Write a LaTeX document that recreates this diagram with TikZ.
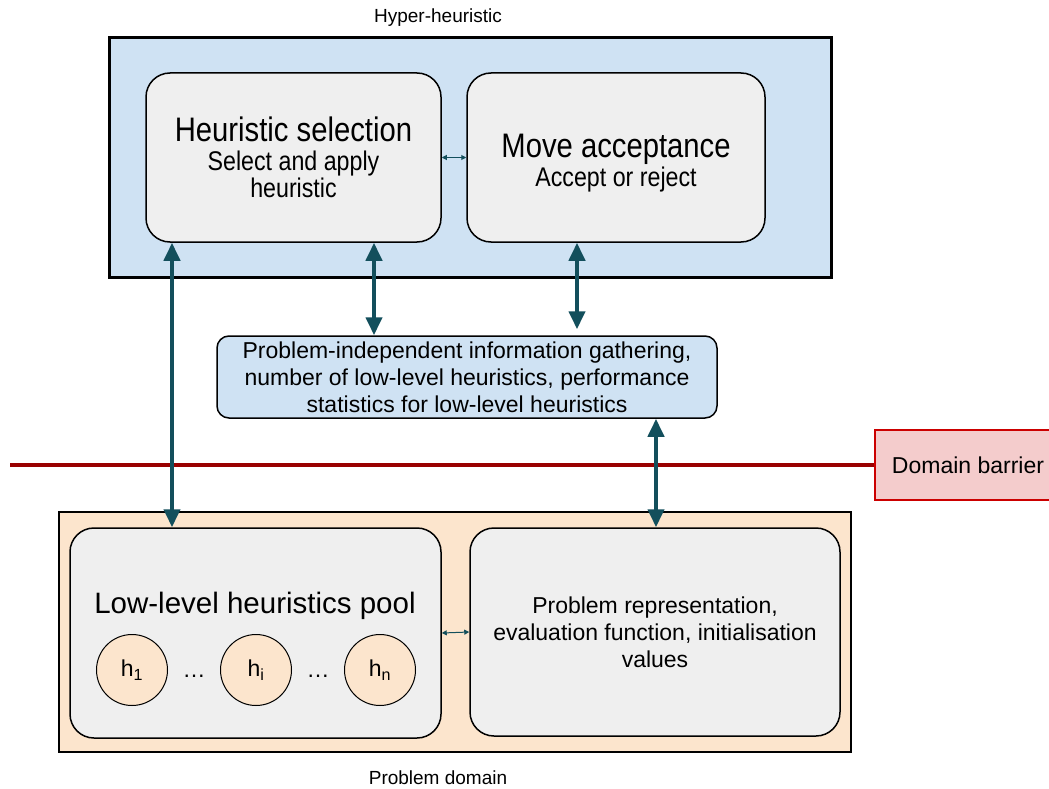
\documentclass[tikz,border=0pt]{standalone}
\usepackage{fontspec}
\setmainfont{Liberation Sans}
\newfontfamily\narrowfont[FakeStretch=0.86]{Liberation Sans}
\usetikzlibrary{arrows.meta,positioning,calc}

\definecolor{hyperblue}{HTML}{CFE2F3}
\definecolor{panelgray}{HTML}{EFEFEF}
\definecolor{domainpeach}{HTML}{FCE5CD}
\definecolor{barrierpink}{HTML}{F4CCCC}
\definecolor{barrierred}{HTML}{CC0000}
\definecolor{barrierline}{HTML}{990000}
\definecolor{linkteal}{HTML}{134F5C}

\newcommand{\bigtxt}{\fontsize{29.5}{34}\selectfont}
\newcommand{\smalltxt}{\fontsize{23}{27}\selectfont}
\newcommand{\narrowtxt}{\narrowfont\fontsize{27}{27}\selectfont}
\newcommand{\narrowbig}{\fontsize{34}{36}\selectfont}

\begin{document}
\begin{tikzpicture}[
  x=1pt, y=-1pt,
  frame/.style={draw,line width=#1,inner sep=0pt},
  panel/.style={draw,rounded corners=24pt,fill=panelgray,line width=1.5pt,
                align=center,inner sep=0pt},
  leaf/.style={circle,draw,fill=domainpeach,line width=1pt,
               minimum size=71pt,inner sep=0pt,font=\smalltxt},
  biglink/.style={{Triangle[length=18pt,width=16pt]}-{Triangle[length=18pt,width=16pt]},
                  linkteal,line width=4pt},
  smalllink/.style={{Triangle[length=5pt,width=5pt]}-{Triangle[length=5pt,width=5pt]},
                    linkteal,line width=1pt}
]
\useasboundingbox (0,0) rectangle (1049,789);

% hyper-heuristic level
\node[frame=3pt,fill=hyperblue,minimum width=722pt,minimum height=239pt]
      (hyper) at (470,157.5) {};
\node[font=\fontsize{19}{22}\selectfont] (hyperlbl) at (438,18) {Hyper-heuristic};
\node[panel,font=\narrowtxt,minimum width=295pt,minimum height=169pt] (select) at (293.5,157.5)
      {{\narrowbig Heuristic selection}\\[2pt]
       Select and apply\\
       heuristic};
\node[panel,font=\narrowtxt,minimum width=298pt,minimum height=169pt] (accept) at (616,157.5)
      {{\narrowbig\rule{0pt}{34pt}Move acceptance}\\[2pt]
       Accept or reject};
\draw[smalllink] (select.east) -- (accept.west);

% information gathering
\node[draw,rounded corners=12pt,fill=hyperblue,line width=1.5pt,align=center,
      minimum width=500pt,minimum height=82pt,inner sep=0pt,font=\smalltxt]
      (info) at (467,377)
      {Problem-independent information gathering,\\
       number of low-level heuristics, performance\\
       statistics for low-level heuristics};

% domain barrier
\node[frame=1.5pt,draw=barrierred,fill=barrierpink,minimum width=186pt,
      minimum height=70pt,font=\smalltxt] (barrier) at (968,465) {Domain barrier};
\coordinate (barrierstart) at (10,465);
\draw[barrierline,line width=4pt] (barrierstart) -- (barrier.west);

% problem domain level
\node[frame=2pt,fill=domainpeach,minimum width=792pt,minimum height=240pt]
      (domain) at (455,632) {};
\node[font=\fontsize{19}{22}\selectfont] (domainlbl) at (438,778) {Problem domain};
\node[panel,minimum width=371pt,minimum height=210pt] (pool) at (255.5,633) {};
\node[font=\bigtxt] (pooltitle) at (255,606) {Low-level heuristics pool};
\node[leaf] (h1) at (132,670) {h\textsubscript{1}};
\node[leaf,right=52pt of h1] (hi) {h\textsubscript{i}};
\node[leaf,right=52pt of hi] (hn) {h\textsubscript{n}};
\node[font=\smalltxt,yshift=-6pt] (dots1) at ($(h1)!0.5!(hi)$) {\dots};
\node[font=\smalltxt,yshift=-6pt] (dots2) at ($(hi)!0.5!(hn)$) {\dots};
\node[panel,minimum width=370pt,minimum height=208pt,font=\smalltxt] (repr) at (655,632)
      {Problem representation,\\
       evaluation function, initialisation\\
       values};
\draw[smalllink] (pool.east) -- (repr.west);

% links between levels
\coordinate (xa) at (172,0);
\coordinate (xb) at (374,0);
\coordinate (xc) at (577,0);
\coordinate (xd) at (656,0);
\draw[biglink] (select.south -| xa) -- (pool.north -| xa);
\draw[biglink] (select.south -| xb) -- (info.north -| xb);
\draw[biglink,shorten >=6pt] (accept.south -| xc) -- (info.north -| xc);
\draw[biglink] (info.south -| xd) -- (repr.north -| xd);
\end{tikzpicture}
\end{document}
